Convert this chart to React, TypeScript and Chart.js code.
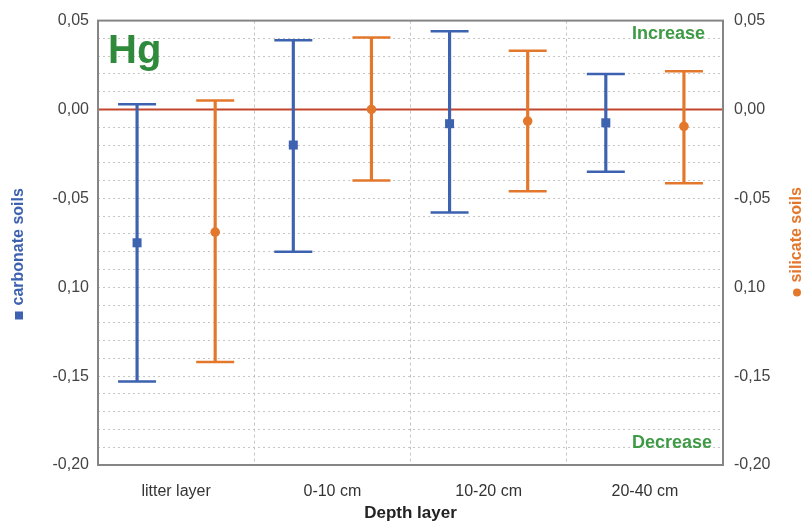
import { useEffect, useRef } from "react";
import { Chart, registerables } from "chart.js";

Chart.register(...registerables);

// Depth layers on the x axis
const depthLayers = ["litter layer", "0-10 cm", "10-20 cm", "20-40 cm"];

// Carbonate soils: mean change with lower / upper interval bounds
const carbonateMean = [-0.075, -0.02, -0.008, -0.0075];
const carbonateLow = [-0.153, -0.08, -0.058, -0.035];
const carbonateHigh = [0.003, 0.039, 0.044, 0.02];

// Silicate soils: mean change with lower / upper interval bounds
const silicateMean = [-0.069, 0.0, -0.0065, -0.0095];
const silicateLow = [-0.142, -0.04, -0.046, -0.0415];
const silicateHigh = [0.005, 0.0405, 0.033, 0.0215];

// Labelled y ticks (minor grid every 0.01)
const yTickValues = [0.05, 0, -0.05, -0.1, -0.15, -0.2];
const yTickLabels = ["0,05", "0,00", "-0,05", "0,10", "-0,15", "-0,20"];
const yMin = -0.2;
const yMax = 0.05;
const yStep = 0.01;

const BLUE = "#3d62b0";
const ORANGE = "#e3782d";
const GREEN = "#2f8a3c";
const SANS = '"Liberation Sans", Arial, sans-serif';

const tickLabel = (value: number) => {
  const idx = yTickValues.findIndex((v) => Math.abs(v - value) < 1e-6);
  return idx >= 0 ? yTickLabels[idx] : "";
};

const errorBarPlugin = {
  id: "errorBars",
  beforeDatasetsDraw(chart: any) {
    const { ctx, chartArea, scales } = chart;
    const y0 = scales.y.getPixelForValue(0);
    ctx.save();
    ctx.strokeStyle = "#c2462c";
    ctx.lineWidth = 2;
    ctx.beginPath();
    ctx.moveTo(chartArea.left, y0);
    ctx.lineTo(chartArea.right, y0);
    ctx.stroke();
    ctx.restore();
  },
  afterDatasetsDraw(chart: any) {
    const { ctx, scales, chartArea } = chart;
    const y = scales.y;
    chart.data.datasets.forEach((ds: any, di: number) => {
      const meta = chart.getDatasetMeta(di);
      meta.data.forEach((bar: any, i: number) => {
        const [lo, hi] = ds.data[i];
        const x = bar.x;
        const capHalf = 19;
        ctx.save();
        ctx.strokeStyle = ds.backgroundColor;
        ctx.lineWidth = 2.5;
        ctx.beginPath();
        for (const v of [lo, hi]) {
          const py = y.getPixelForValue(v);
          ctx.moveTo(x - capHalf, py);
          ctx.lineTo(x + capHalf, py);
        }
        ctx.stroke();
        const my = y.getPixelForValue(ds.means[i]);
        ctx.fillStyle = ds.backgroundColor;
        if (ds.marker === "square") {
          ctx.fillRect(x - 4.5, my - 4.5, 9, 9);
        } else {
          ctx.beginPath();
          ctx.arc(x, my, 4.8, 0, Math.PI * 2);
          ctx.fill();
        }
        ctx.restore();
      });
    });

    // plot frame
    ctx.save();
    ctx.strokeStyle = "#858585";
    ctx.lineWidth = 2;
    ctx.strokeRect(
      chartArea.left,
      chartArea.top,
      chartArea.right - chartArea.left,
      chartArea.bottom - chartArea.top
    );
    ctx.restore();
  },
  afterDraw(chart: any) {
    const { ctx, chartArea } = chart;
    ctx.save();
    // element symbol
    ctx.fillStyle = GREEN;
    ctx.font = `bold 40px ${SANS}`;
    ctx.textAlign = "left";
    ctx.textBaseline = "alphabetic";
    ctx.fillText("Hg", chartArea.left + 10, chartArea.top + 42);

    // direction hints
    ctx.fillStyle = "#3f9a45";
    ctx.font = `bold 18px ${SANS}`;
    ctx.textAlign = "right";
    ctx.textBaseline = "middle";
    ctx.fillText("Increase", chartArea.right - 18, chartArea.top + 13);
    ctx.fillText("Decrease", chartArea.right - 11, chartArea.bottom - 22);

    // left axis title with square marker
    const midY = (chartArea.top + chartArea.bottom) / 2;
    ctx.font = `bold 16px ${SANS}`;
    ctx.textBaseline = "middle";
    ctx.save();
    ctx.translate(19, midY + 11);
    ctx.rotate(-Math.PI / 2);
    ctx.fillStyle = BLUE;
    ctx.textAlign = "left";
    const leftText = "carbonate soils";
    const lw = ctx.measureText(leftText).width;
    const lStart = -(lw + 14) / 2;
    ctx.fillRect(lStart, -4, 8, 8);
    ctx.fillText(leftText, lStart + 14, 0);
    ctx.restore();

    // right axis title with round marker
    ctx.save();
    ctx.translate(797, midY - 1);
    ctx.rotate(-Math.PI / 2);
    ctx.fillStyle = ORANGE;
    ctx.textAlign = "left";
    const rightText = "silicate soils";
    const rw = ctx.measureText(rightText).width;
    const rStart = -(rw + 14) / 2;
    ctx.beginPath();
    ctx.arc(rStart + 4, 0, 4, 0, Math.PI * 2);
    ctx.fill();
    ctx.fillText(rightText, rStart + 14, 0);
    ctx.restore();

    ctx.restore();
  },
};

export default function App() {
  const canvasRef = useRef<HTMLCanvasElement | null>(null);

  useEffect(() => {
    if (!canvasRef.current) return;
    const gridColor = "#c6c6c6";
    const chart = new Chart(canvasRef.current, {
      type: "bar",
      data: {
        labels: depthLayers,
        datasets: [
          {
            label: "carbonate soils",
            data: depthLayers.map((_, i) => [carbonateLow[i], carbonateHigh[i]]),
            means: carbonateMean,
            marker: "square",
            backgroundColor: BLUE,
            borderWidth: 0,
            maxBarThickness: 2.5,
          } as any,
          {
            label: "silicate soils",
            data: depthLayers.map((_, i) => [silicateLow[i], silicateHigh[i]]),
            means: silicateMean,
            marker: "circle",
            backgroundColor: ORANGE,
            borderWidth: 0,
            maxBarThickness: 2.5,
          } as any,
        ],
      },
      options: {
        animation: false,
        responsive: true,
        maintainAspectRatio: false,
        layout: { padding: { top: 17, left: 0, right: 0, bottom: 0 } },
        datasets: { bar: { categoryPercentage: 1.0, barPercentage: 1.0 } },
        plugins: {
          legend: { display: false },
          tooltip: { enabled: false },
        },
        scales: {
          x: {
            grid: {
              color: gridColor,
              drawTicks: false,
              offset: true,
            },
            border: { display: false, dash: [3, 3] },
            ticks: {
              color: "#333",
              font: { family: SANS, size: 16 },
              padding: 17,
            },
            title: {
              display: true,
              text: "Depth layer",
              color: "#222",
              font: { family: SANS, size: 17, weight: "bold" },
              padding: { top: 0, bottom: 3 },
            },
            afterFit: (scale: any) => {
              scale.height = 62;
            },
          },
          y: {
            position: "left",
            min: yMin,
            max: yMax,
            grid: { color: gridColor, drawTicks: false },
            border: { display: false, dash: [2, 3] },
            ticks: {
              stepSize: yStep,
              autoSkip: false,
              color: "#444",
              font: { family: SANS, size: 16 },
              padding: 9,
              callback: (v: any) => tickLabel(Number(v)),
            },
            afterFit: (scale: any) => {
              scale.width = 98;
            },
          },
          y2: {
            position: "right",
            min: yMin,
            max: yMax,
            grid: { display: false, drawTicks: false },
            border: { display: false },
            ticks: {
              stepSize: yStep,
              autoSkip: false,
              color: "#444",
              font: { family: SANS, size: 16 },
              padding: 11,
              callback: (v: any) => tickLabel(Number(v)),
            },
            afterFit: (scale: any) => {
              scale.width = 83;
            },
          },
        },
      } as any,
      plugins: [errorBarPlugin],
    });
    return () => chart.destroy();
  }, []);

  return (
    <div
      style={{
        position: "fixed",
        left: 0,
        top: 0,
        width: 806,
        height: 527,
        background: "#fff",
      }}
    >
      <canvas ref={canvasRef} />
    </div>
  );
}
